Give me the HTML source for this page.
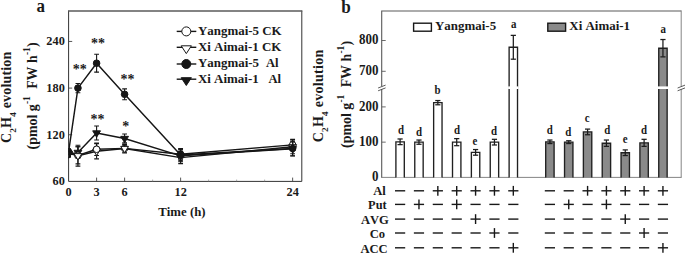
<!DOCTYPE html>
<html><head><meta charset="utf-8"><title>C2H4 evolution</title>
<style>html,body{margin:0;padding:0;background:#fff;}svg{display:block;}text{font-family:"Liberation Serif",serif;font-weight:bold;fill:#1a1a1a;font-kerning:none;}</style>
</head><body>
<svg width="685" height="253" viewBox="0 0 685 253">
<rect x="0" y="0" width="685" height="253" fill="#ffffff"/>
<path d="M68.6,10.7 V181.4 H301.8 V10.7" fill="none" stroke="#333" stroke-width="1"/>
<line x1="68.10" y1="11.00" x2="302.30" y2="11.00" stroke="#5a5a5a" stroke-width="1.3" />
<line x1="68.60" y1="134.75" x2="72.20" y2="134.75" stroke="#444" stroke-width="0.9" />
<line x1="68.60" y1="88.10" x2="72.20" y2="88.10" stroke="#444" stroke-width="0.9" />
<line x1="68.60" y1="41.45" x2="72.20" y2="41.45" stroke="#444" stroke-width="0.9" />
<text transform="translate(64.80,185.40) scale(0.93,1)" font-size="13.23" text-anchor="end" >60</text>
<text transform="translate(64.80,138.75) scale(0.93,1)" font-size="13.23" text-anchor="end" >120</text>
<text transform="translate(64.80,92.10) scale(0.93,1)" font-size="13.23" text-anchor="end" >180</text>
<text transform="translate(64.80,45.45) scale(0.93,1)" font-size="13.23" text-anchor="end" >240</text>
<line x1="96.60" y1="181.40" x2="96.60" y2="177.60" stroke="#444" stroke-width="0.9" />
<line x1="124.61" y1="181.40" x2="124.61" y2="177.60" stroke="#444" stroke-width="0.9" />
<line x1="180.62" y1="181.40" x2="180.62" y2="177.60" stroke="#444" stroke-width="0.9" />
<line x1="292.64" y1="181.40" x2="292.64" y2="177.60" stroke="#444" stroke-width="0.9" />
<line x1="152.62" y1="181.40" x2="152.62" y2="179.60" stroke="#888" stroke-width="0.7" />
<line x1="208.62" y1="181.40" x2="208.62" y2="179.60" stroke="#888" stroke-width="0.7" />
<line x1="236.63" y1="181.40" x2="236.63" y2="179.60" stroke="#888" stroke-width="0.7" />
<line x1="264.63" y1="181.40" x2="264.63" y2="179.60" stroke="#888" stroke-width="0.7" />
<text transform="translate(68.60,195.70) scale(0.93,1)" font-size="13.23" text-anchor="middle" >0</text>
<text transform="translate(96.60,195.70) scale(0.93,1)" font-size="13.23" text-anchor="middle" >3</text>
<text transform="translate(124.61,195.70) scale(0.93,1)" font-size="13.23" text-anchor="middle" >6</text>
<text transform="translate(180.62,195.70) scale(0.93,1)" font-size="13.23" text-anchor="middle" >12</text>
<text transform="translate(292.64,195.70) scale(0.93,1)" font-size="13.23" text-anchor="middle" >24</text>
<text transform="translate(181.90,216.40) scale(0.97,1)" font-size="13.20" text-anchor="middle" >Time (h)</text>
<text transform="translate(36.50,12.40) scale(0.93,1)" font-size="18.28" text-anchor="start" >a</text>
<text transform="translate(10.6,143.1) rotate(-90)" font-size="14">C<tspan font-size="9.2" dy="5.0" dx="0.2">2</tspan><tspan dy="-5.0" dx="0.3">H</tspan><tspan font-size="9.2" dy="5.0" dx="0.2">4</tspan><tspan dy="-5.0" dx="0.3" letter-spacing="0.15"> evolution</tspan></text>
<text transform="translate(36.8,149.4) rotate(-90)" font-size="13.9">(pmol g<tspan font-size="9.4" dy="-6.6" dx="0.2">-1</tspan><tspan dy="6.6" dx="3.9"> FW h</tspan><tspan font-size="9.4" dy="-6.6" dx="0.2">-1</tspan><tspan dy="6.6" dx="0.3">)</tspan></text>
<clipPath id="ca"><rect x="68.6" y="10.7" width="233.20" height="170.70"/></clipPath>
<g clip-path="url(#ca)">
<polyline points="68.60,152.63 77.94,155.35 96.60,149.29 124.61,148.36 180.62,154.19 292.64,144.86" fill="none" stroke="#161616" stroke-width="1.45" stroke-linejoin="round"/>
<line x1="68.60" y1="149.52" x2="68.60" y2="155.74" stroke="#161616" stroke-width="1.1" />
<line x1="66.20" y1="149.52" x2="71.00" y2="149.52" stroke="#161616" stroke-width="1.1" />
<line x1="66.20" y1="155.74" x2="71.00" y2="155.74" stroke="#161616" stroke-width="1.1" />
<line x1="77.94" y1="146.80" x2="77.94" y2="163.91" stroke="#161616" stroke-width="1.1" />
<line x1="75.53" y1="146.80" x2="80.34" y2="146.80" stroke="#161616" stroke-width="1.1" />
<line x1="75.53" y1="163.91" x2="80.34" y2="163.91" stroke="#161616" stroke-width="1.1" />
<line x1="96.60" y1="143.07" x2="96.60" y2="155.51" stroke="#161616" stroke-width="1.1" />
<line x1="94.20" y1="143.07" x2="99.00" y2="143.07" stroke="#161616" stroke-width="1.1" />
<line x1="94.20" y1="155.51" x2="99.00" y2="155.51" stroke="#161616" stroke-width="1.1" />
<line x1="124.61" y1="144.47" x2="124.61" y2="152.24" stroke="#161616" stroke-width="1.1" />
<line x1="122.21" y1="144.47" x2="127.01" y2="144.47" stroke="#161616" stroke-width="1.1" />
<line x1="122.21" y1="152.24" x2="127.01" y2="152.24" stroke="#161616" stroke-width="1.1" />
<line x1="180.62" y1="148.67" x2="180.62" y2="159.71" stroke="#161616" stroke-width="1.1" />
<line x1="178.22" y1="148.67" x2="183.02" y2="148.67" stroke="#161616" stroke-width="1.1" />
<line x1="178.22" y1="159.71" x2="183.02" y2="159.71" stroke="#161616" stroke-width="1.1" />
<line x1="292.64" y1="139.34" x2="292.64" y2="150.38" stroke="#161616" stroke-width="1.1" />
<line x1="290.24" y1="139.34" x2="295.04" y2="139.34" stroke="#161616" stroke-width="1.1" />
<line x1="290.24" y1="150.38" x2="295.04" y2="150.38" stroke="#161616" stroke-width="1.1" />
<circle cx="68.60" cy="152.63" r="3.3" fill="#fff" stroke="#161616" stroke-width="1"/>
<circle cx="77.94" cy="155.35" r="3.3" fill="#fff" stroke="#161616" stroke-width="1"/>
<circle cx="96.60" cy="149.29" r="3.3" fill="#fff" stroke="#161616" stroke-width="1"/>
<circle cx="124.61" cy="148.36" r="3.3" fill="#fff" stroke="#161616" stroke-width="1"/>
<circle cx="180.62" cy="154.19" r="3.3" fill="#fff" stroke="#161616" stroke-width="1"/>
<circle cx="292.64" cy="144.86" r="3.3" fill="#fff" stroke="#161616" stroke-width="1"/>
<polyline points="68.60,153.41 77.94,155.74 96.60,151.23 124.61,148.51 180.62,157.61 292.64,146.80" fill="none" stroke="#161616" stroke-width="1.45" stroke-linejoin="round"/>
<line x1="68.60" y1="150.30" x2="68.60" y2="156.52" stroke="#161616" stroke-width="1.1" />
<line x1="66.20" y1="150.30" x2="71.00" y2="150.30" stroke="#161616" stroke-width="1.1" />
<line x1="66.20" y1="156.52" x2="71.00" y2="156.52" stroke="#161616" stroke-width="1.1" />
<line x1="77.94" y1="145.32" x2="77.94" y2="166.16" stroke="#161616" stroke-width="1.1" />
<line x1="75.53" y1="145.32" x2="80.34" y2="145.32" stroke="#161616" stroke-width="1.1" />
<line x1="75.53" y1="166.16" x2="80.34" y2="166.16" stroke="#161616" stroke-width="1.1" />
<line x1="96.60" y1="143.61" x2="96.60" y2="158.85" stroke="#161616" stroke-width="1.1" />
<line x1="94.20" y1="143.61" x2="99.00" y2="143.61" stroke="#161616" stroke-width="1.1" />
<line x1="94.20" y1="158.85" x2="99.00" y2="158.85" stroke="#161616" stroke-width="1.1" />
<line x1="124.61" y1="144.00" x2="124.61" y2="153.02" stroke="#161616" stroke-width="1.1" />
<line x1="122.21" y1="144.00" x2="127.01" y2="144.00" stroke="#161616" stroke-width="1.1" />
<line x1="122.21" y1="153.02" x2="127.01" y2="153.02" stroke="#161616" stroke-width="1.1" />
<line x1="180.62" y1="151.62" x2="180.62" y2="163.60" stroke="#161616" stroke-width="1.1" />
<line x1="178.22" y1="151.62" x2="183.02" y2="151.62" stroke="#161616" stroke-width="1.1" />
<line x1="178.22" y1="163.60" x2="183.02" y2="163.60" stroke="#161616" stroke-width="1.1" />
<line x1="292.64" y1="139.80" x2="292.64" y2="153.80" stroke="#161616" stroke-width="1.1" />
<line x1="290.24" y1="139.80" x2="295.04" y2="139.80" stroke="#161616" stroke-width="1.1" />
<line x1="290.24" y1="153.80" x2="295.04" y2="153.80" stroke="#161616" stroke-width="1.1" />
<polygon points="64.70,151.28 72.50,151.28 68.60,157.68" fill="#fff" stroke="#161616" stroke-width="1" stroke-linejoin="miter"/>
<polygon points="74.03,153.61 81.84,153.61 77.94,160.01" fill="#fff" stroke="#161616" stroke-width="1" stroke-linejoin="miter"/>
<polygon points="92.70,149.10 100.50,149.10 96.60,155.50" fill="#fff" stroke="#161616" stroke-width="1" stroke-linejoin="miter"/>
<polygon points="120.71,146.38 128.51,146.38 124.61,152.78" fill="#fff" stroke="#161616" stroke-width="1" stroke-linejoin="miter"/>
<polygon points="176.72,155.48 184.52,155.48 180.62,161.88" fill="#fff" stroke="#161616" stroke-width="1" stroke-linejoin="miter"/>
<polygon points="288.74,144.67 296.54,144.67 292.64,151.07" fill="#fff" stroke="#161616" stroke-width="1" stroke-linejoin="miter"/>
<polyline points="68.60,151.86 77.94,88.10 96.60,63.22 124.61,94.32 180.62,154.97 292.64,148.51" fill="none" stroke="#161616" stroke-width="1.45" stroke-linejoin="round"/>
<line x1="68.60" y1="148.75" x2="68.60" y2="154.97" stroke="#161616" stroke-width="1.1" />
<line x1="66.20" y1="148.75" x2="71.00" y2="148.75" stroke="#161616" stroke-width="1.1" />
<line x1="66.20" y1="154.97" x2="71.00" y2="154.97" stroke="#161616" stroke-width="1.1" />
<line x1="77.94" y1="83.44" x2="77.94" y2="92.77" stroke="#161616" stroke-width="1.1" />
<line x1="75.53" y1="83.44" x2="80.34" y2="83.44" stroke="#161616" stroke-width="1.1" />
<line x1="75.53" y1="92.77" x2="80.34" y2="92.77" stroke="#161616" stroke-width="1.1" />
<line x1="96.60" y1="54.28" x2="96.60" y2="72.16" stroke="#161616" stroke-width="1.1" />
<line x1="94.20" y1="54.28" x2="99.00" y2="54.28" stroke="#161616" stroke-width="1.1" />
<line x1="94.20" y1="72.16" x2="99.00" y2="72.16" stroke="#161616" stroke-width="1.1" />
<line x1="124.61" y1="88.88" x2="124.61" y2="99.76" stroke="#161616" stroke-width="1.1" />
<line x1="122.21" y1="88.88" x2="127.01" y2="88.88" stroke="#161616" stroke-width="1.1" />
<line x1="122.21" y1="99.76" x2="127.01" y2="99.76" stroke="#161616" stroke-width="1.1" />
<line x1="180.62" y1="149.13" x2="180.62" y2="160.80" stroke="#161616" stroke-width="1.1" />
<line x1="178.22" y1="149.13" x2="183.02" y2="149.13" stroke="#161616" stroke-width="1.1" />
<line x1="178.22" y1="160.80" x2="183.02" y2="160.80" stroke="#161616" stroke-width="1.1" />
<line x1="292.64" y1="141.05" x2="292.64" y2="155.98" stroke="#161616" stroke-width="1.1" />
<line x1="290.24" y1="141.05" x2="295.04" y2="141.05" stroke="#161616" stroke-width="1.1" />
<line x1="290.24" y1="155.98" x2="295.04" y2="155.98" stroke="#161616" stroke-width="1.1" />
<circle cx="68.60" cy="151.86" r="3.3" fill="#161616" stroke="#161616" stroke-width="1"/>
<circle cx="77.94" cy="88.10" r="3.3" fill="#161616" stroke="#161616" stroke-width="1"/>
<circle cx="96.60" cy="63.22" r="3.3" fill="#161616" stroke="#161616" stroke-width="1"/>
<circle cx="124.61" cy="94.32" r="3.3" fill="#161616" stroke="#161616" stroke-width="1"/>
<circle cx="180.62" cy="154.97" r="3.3" fill="#161616" stroke="#161616" stroke-width="1"/>
<circle cx="292.64" cy="148.51" r="3.3" fill="#161616" stroke="#161616" stroke-width="1"/>
<polyline points="68.60,154.19 77.94,152.40 96.60,132.96 124.61,138.48 180.62,155.82 292.64,148.75" fill="none" stroke="#161616" stroke-width="1.45" stroke-linejoin="round"/>
<line x1="68.60" y1="151.08" x2="68.60" y2="157.30" stroke="#161616" stroke-width="1.1" />
<line x1="66.20" y1="151.08" x2="71.00" y2="151.08" stroke="#161616" stroke-width="1.1" />
<line x1="66.20" y1="157.30" x2="71.00" y2="157.30" stroke="#161616" stroke-width="1.1" />
<line x1="77.94" y1="146.72" x2="77.94" y2="158.07" stroke="#161616" stroke-width="1.1" />
<line x1="75.53" y1="146.72" x2="80.34" y2="146.72" stroke="#161616" stroke-width="1.1" />
<line x1="75.53" y1="158.07" x2="80.34" y2="158.07" stroke="#161616" stroke-width="1.1" />
<line x1="96.60" y1="125.96" x2="96.60" y2="139.96" stroke="#161616" stroke-width="1.1" />
<line x1="94.20" y1="125.96" x2="99.00" y2="125.96" stroke="#161616" stroke-width="1.1" />
<line x1="94.20" y1="139.96" x2="99.00" y2="139.96" stroke="#161616" stroke-width="1.1" />
<line x1="124.61" y1="134.05" x2="124.61" y2="142.91" stroke="#161616" stroke-width="1.1" />
<line x1="122.21" y1="134.05" x2="127.01" y2="134.05" stroke="#161616" stroke-width="1.1" />
<line x1="122.21" y1="142.91" x2="127.01" y2="142.91" stroke="#161616" stroke-width="1.1" />
<line x1="180.62" y1="149.83" x2="180.62" y2="161.81" stroke="#161616" stroke-width="1.1" />
<line x1="178.22" y1="149.83" x2="183.02" y2="149.83" stroke="#161616" stroke-width="1.1" />
<line x1="178.22" y1="161.81" x2="183.02" y2="161.81" stroke="#161616" stroke-width="1.1" />
<line x1="292.64" y1="141.75" x2="292.64" y2="155.74" stroke="#161616" stroke-width="1.1" />
<line x1="290.24" y1="141.75" x2="295.04" y2="141.75" stroke="#161616" stroke-width="1.1" />
<line x1="290.24" y1="155.74" x2="295.04" y2="155.74" stroke="#161616" stroke-width="1.1" />
<polygon points="64.70,152.05 72.50,152.05 68.60,158.45" fill="#161616" stroke="#161616" stroke-width="1" stroke-linejoin="miter"/>
<polygon points="74.03,150.27 81.84,150.27 77.94,156.67" fill="#161616" stroke="#161616" stroke-width="1" stroke-linejoin="miter"/>
<polygon points="92.70,130.83 100.50,130.83 96.60,137.23" fill="#161616" stroke="#161616" stroke-width="1" stroke-linejoin="miter"/>
<polygon points="120.71,136.35 128.51,136.35 124.61,142.75" fill="#161616" stroke="#161616" stroke-width="1" stroke-linejoin="miter"/>
<polygon points="176.72,153.69 184.52,153.69 180.62,160.09" fill="#161616" stroke="#161616" stroke-width="1" stroke-linejoin="miter"/>
<polygon points="288.74,146.61 296.54,146.61 292.64,153.01" fill="#161616" stroke="#161616" stroke-width="1" stroke-linejoin="miter"/>
<circle cx="77.94" cy="155.35" r="3.3" fill="#fff" stroke="#161616" stroke-width="1"/>
<polygon points="74.03,153.61 81.84,153.61 77.94,160.01" fill="#fff" stroke="#161616" stroke-width="1" stroke-linejoin="miter"/>
<circle cx="96.60" cy="149.29" r="3.3" fill="#fff" stroke="#161616" stroke-width="1"/>
</g>
<text transform="translate(97.90,47.70) scale(1.0,1)" font-size="14.00" text-anchor="middle" >**</text>
<text transform="translate(79.70,74.10) scale(1.0,1)" font-size="14.00" text-anchor="middle" >**</text>
<text transform="translate(127.40,83.60) scale(1.0,1)" font-size="14.00" text-anchor="middle" >**</text>
<text transform="translate(97.60,123.90) scale(1.0,1)" font-size="14.00" text-anchor="middle" >**</text>
<text transform="translate(125.70,130.90) scale(1.0,1)" font-size="14.00" text-anchor="middle" >*</text>
<line x1="176.70" y1="31.40" x2="196.30" y2="31.40" stroke="#161616" stroke-width="1.4" />
<circle cx="186.3" cy="31.4" r="4.5" fill="#fff" stroke="#161616" stroke-width="1"/>
<text transform="translate(197.90,34.90) scale(0.96,1)" font-size="13.49" text-anchor="start" xml:space="preserve">Yangmai-5 CK</text>
<line x1="176.70" y1="47.30" x2="196.30" y2="47.30" stroke="#161616" stroke-width="1.4" />
<polygon points="181.20000000000002,45.8 191.4,45.8 186.3,53.599999999999994" fill="#fff" stroke="#161616" stroke-width="1"/>
<text transform="translate(197.90,50.60) scale(0.96,1)" font-size="13.49" text-anchor="start" xml:space="preserve">Xi Aimai-1 CK</text>
<line x1="176.70" y1="64.00" x2="196.30" y2="64.00" stroke="#161616" stroke-width="1.4" />
<circle cx="186.3" cy="64.0" r="4.5" fill="#161616" stroke="#161616" stroke-width="1"/>
<text transform="translate(197.90,66.90) scale(0.96,1)" font-size="13.49" text-anchor="start" xml:space="preserve">Yangmai-5</text>
<text transform="translate(266.00,66.90) scale(0.96,1)" font-size="13.12" text-anchor="start" >Al</text>
<line x1="176.70" y1="79.20" x2="196.30" y2="79.20" stroke="#161616" stroke-width="1.4" />
<polygon points="181.20000000000002,77.7 191.4,77.7 186.3,85.5" fill="#161616" stroke="#161616" stroke-width="1"/>
<text transform="translate(197.90,83.10) scale(0.96,1)" font-size="13.49" text-anchor="start" xml:space="preserve">Xi Aimai-1</text>
<text transform="translate(268.50,83.10) scale(0.96,1)" font-size="13.12" text-anchor="start" >Al</text>
<path d="M381.7,177.4 V10.95 H681.2" fill="none" stroke="#5a5a5a" stroke-width="1.1"/>
<path d="M681.2,10.45 V177.4" fill="none" stroke="#777" stroke-width="0.9"/>
<path d="M381.2,177.4 H681.6" fill="none" stroke="#666" stroke-width="0.8"/>
<text transform="translate(378.40,181.20) scale(0.93,1)" font-size="13.98" text-anchor="end" >0</text>
<line x1="381.70" y1="142.15" x2="385.70" y2="142.15" stroke="#5a5a5a" stroke-width="0.9" />
<text transform="translate(378.40,145.95) scale(0.93,1)" font-size="13.98" text-anchor="end" >100</text>
<line x1="381.70" y1="106.90" x2="385.70" y2="106.90" stroke="#5a5a5a" stroke-width="0.9" />
<text transform="translate(378.40,110.70) scale(0.93,1)" font-size="13.98" text-anchor="end" >200</text>
<line x1="381.70" y1="71.30" x2="385.70" y2="71.30" stroke="#5a5a5a" stroke-width="0.9" />
<text transform="translate(378.40,75.00) scale(0.93,1)" font-size="13.98" text-anchor="end" >700</text>
<line x1="381.70" y1="40.50" x2="385.70" y2="40.50" stroke="#5a5a5a" stroke-width="0.9" />
<text transform="translate(378.40,44.20) scale(0.93,1)" font-size="13.98" text-anchor="end" >800</text>
<rect x="380.5" y="86.3" width="2.4" height="2.8" fill="#fff"/>
<line x1="378.10" y1="88.00" x2="385.60" y2="85.10" stroke="#484848" stroke-width="0.9" />
<line x1="378.10" y1="90.80" x2="385.60" y2="87.90" stroke="#484848" stroke-width="0.9" />
<rect x="680.0" y="86.3" width="2.4" height="2.8" fill="#fff"/>
<line x1="677.60" y1="88.00" x2="685.10" y2="85.10" stroke="#484848" stroke-width="0.9" />
<line x1="677.60" y1="90.80" x2="685.10" y2="87.90" stroke="#484848" stroke-width="0.9" />
<text transform="translate(341.20,12.70) scale(0.93,1)" font-size="18.49" text-anchor="start" >b</text>
<text transform="translate(323,142.3) rotate(-90)" font-size="14">C<tspan font-size="9.2" dy="5.0" dx="0.2">2</tspan><tspan dy="-5.0" dx="0.3">H</tspan><tspan font-size="9.2" dy="5.0" dx="0.2">4</tspan><tspan dy="-5.0" dx="0.3" letter-spacing="0.3"> evolution</tspan></text>
<text transform="translate(350.8,147.9) rotate(-90)" font-size="13.9">(pmol g<tspan font-size="9.4" dy="-6.6" dx="0.2">-1</tspan><tspan dy="6.6" dx="3.9"> FW h</tspan><tspan font-size="9.4" dy="-6.6" dx="0.2">-1</tspan><tspan dy="6.6" dx="0.3">)</tspan></text>
<rect x="395.90" y="141.80" width="8.4" height="35.60" fill="#fff"/>
<path d="M395.90,177.4 V141.80 H404.30 V177.4" fill="none" stroke="#202020" stroke-width="1.35"/>
<line x1="400.10" y1="138.97" x2="400.10" y2="144.63" stroke="#1c1c1c" stroke-width="1.25" />
<line x1="397.50" y1="138.97" x2="402.70" y2="138.97" stroke="#1c1c1c" stroke-width="1.25" />
<line x1="397.50" y1="144.63" x2="402.70" y2="144.63" stroke="#1c1c1c" stroke-width="1.25" />
<text transform="translate(401.00,133.90) scale(0.92,1)" font-size="11.85" text-anchor="middle" >d</text>
<rect x="545.70" y="141.80" width="8.4" height="35.60" fill="#8a8a8a"/>
<path d="M545.70,177.4 V141.80 H554.10 V177.4" fill="none" stroke="#202020" stroke-width="1.35"/>
<line x1="549.90" y1="140.03" x2="549.90" y2="143.57" stroke="#1c1c1c" stroke-width="1.25" />
<line x1="547.30" y1="140.03" x2="552.50" y2="140.03" stroke="#1c1c1c" stroke-width="1.25" />
<line x1="547.30" y1="143.57" x2="552.50" y2="143.57" stroke="#1c1c1c" stroke-width="1.25" />
<text transform="translate(549.80,134.20) scale(0.92,1)" font-size="11.85" text-anchor="middle" >d</text>
<rect x="414.77" y="142.15" width="8.4" height="35.25" fill="#fff"/>
<path d="M414.77,177.4 V142.15 H423.17 V177.4" fill="none" stroke="#202020" stroke-width="1.35"/>
<line x1="418.97" y1="140.03" x2="418.97" y2="144.27" stroke="#1c1c1c" stroke-width="1.25" />
<line x1="416.37" y1="140.03" x2="421.57" y2="140.03" stroke="#1c1c1c" stroke-width="1.25" />
<line x1="416.37" y1="144.27" x2="421.57" y2="144.27" stroke="#1c1c1c" stroke-width="1.25" />
<text transform="translate(418.97,135.80) scale(0.92,1)" font-size="11.85" text-anchor="middle" >d</text>
<rect x="564.54" y="142.15" width="8.4" height="35.25" fill="#8a8a8a"/>
<path d="M564.54,177.4 V142.15 H572.94 V177.4" fill="none" stroke="#202020" stroke-width="1.35"/>
<line x1="568.74" y1="140.74" x2="568.74" y2="143.56" stroke="#1c1c1c" stroke-width="1.25" />
<line x1="566.14" y1="140.74" x2="571.34" y2="140.74" stroke="#1c1c1c" stroke-width="1.25" />
<line x1="566.14" y1="143.56" x2="571.34" y2="143.56" stroke="#1c1c1c" stroke-width="1.25" />
<text transform="translate(568.34,135.50) scale(0.92,1)" font-size="11.85" text-anchor="middle" >d</text>
<rect x="433.64" y="102.67" width="8.4" height="74.73" fill="#fff"/>
<path d="M433.64,177.4 V102.67 H442.04 V177.4" fill="none" stroke="#202020" stroke-width="1.35"/>
<line x1="437.84" y1="100.55" x2="437.84" y2="104.79" stroke="#1c1c1c" stroke-width="1.25" />
<line x1="435.24" y1="100.55" x2="440.44" y2="100.55" stroke="#1c1c1c" stroke-width="1.25" />
<line x1="435.24" y1="104.79" x2="440.44" y2="104.79" stroke="#1c1c1c" stroke-width="1.25" />
<text transform="translate(437.44,93.90) scale(0.92,1)" font-size="11.85" text-anchor="middle" >b</text>
<rect x="583.38" y="131.93" width="8.4" height="45.47" fill="#8a8a8a"/>
<path d="M583.38,177.4 V131.93 H591.78 V177.4" fill="none" stroke="#202020" stroke-width="1.35"/>
<line x1="587.58" y1="129.10" x2="587.58" y2="134.76" stroke="#1c1c1c" stroke-width="1.25" />
<line x1="584.98" y1="129.10" x2="590.18" y2="129.10" stroke="#1c1c1c" stroke-width="1.25" />
<line x1="584.98" y1="134.76" x2="590.18" y2="134.76" stroke="#1c1c1c" stroke-width="1.25" />
<text transform="translate(587.18,122.40) scale(0.92,1)" font-size="11.85" text-anchor="middle" >c</text>
<rect x="452.51" y="142.15" width="8.4" height="35.25" fill="#fff"/>
<path d="M452.51,177.4 V142.15 H460.91 V177.4" fill="none" stroke="#202020" stroke-width="1.35"/>
<line x1="456.71" y1="138.62" x2="456.71" y2="145.69" stroke="#1c1c1c" stroke-width="1.25" />
<line x1="454.11" y1="138.62" x2="459.31" y2="138.62" stroke="#1c1c1c" stroke-width="1.25" />
<line x1="454.11" y1="145.69" x2="459.31" y2="145.69" stroke="#1c1c1c" stroke-width="1.25" />
<text transform="translate(457.01,134.30) scale(0.92,1)" font-size="11.85" text-anchor="middle" >d</text>
<rect x="602.22" y="143.21" width="8.4" height="34.19" fill="#8a8a8a"/>
<path d="M602.22,177.4 V143.21 H610.62 V177.4" fill="none" stroke="#202020" stroke-width="1.35"/>
<line x1="606.42" y1="140.03" x2="606.42" y2="146.39" stroke="#1c1c1c" stroke-width="1.25" />
<line x1="603.82" y1="140.03" x2="609.02" y2="140.03" stroke="#1c1c1c" stroke-width="1.25" />
<line x1="603.82" y1="146.39" x2="609.02" y2="146.39" stroke="#1c1c1c" stroke-width="1.25" />
<text transform="translate(607.32,134.10) scale(0.92,1)" font-size="11.85" text-anchor="middle" >d</text>
<rect x="471.38" y="152.37" width="8.4" height="25.03" fill="#fff"/>
<path d="M471.38,177.4 V152.37 H479.78 V177.4" fill="none" stroke="#202020" stroke-width="1.35"/>
<line x1="475.58" y1="149.54" x2="475.58" y2="155.20" stroke="#1c1c1c" stroke-width="1.25" />
<line x1="472.98" y1="149.54" x2="478.18" y2="149.54" stroke="#1c1c1c" stroke-width="1.25" />
<line x1="472.98" y1="155.20" x2="478.18" y2="155.20" stroke="#1c1c1c" stroke-width="1.25" />
<text transform="translate(474.98,144.80) scale(0.92,1)" font-size="11.85" text-anchor="middle" >e</text>
<rect x="621.06" y="152.73" width="8.4" height="24.67" fill="#8a8a8a"/>
<path d="M621.06,177.4 V152.73 H629.46 V177.4" fill="none" stroke="#202020" stroke-width="1.35"/>
<line x1="625.26" y1="149.90" x2="625.26" y2="155.55" stroke="#1c1c1c" stroke-width="1.25" />
<line x1="622.66" y1="149.90" x2="627.86" y2="149.90" stroke="#1c1c1c" stroke-width="1.25" />
<line x1="622.66" y1="155.55" x2="627.86" y2="155.55" stroke="#1c1c1c" stroke-width="1.25" />
<text transform="translate(625.26,142.60) scale(0.92,1)" font-size="11.85" text-anchor="middle" >e</text>
<rect x="490.25" y="142.15" width="8.4" height="35.25" fill="#fff"/>
<path d="M490.25,177.4 V142.15 H498.65 V177.4" fill="none" stroke="#202020" stroke-width="1.35"/>
<line x1="494.45" y1="139.32" x2="494.45" y2="144.98" stroke="#1c1c1c" stroke-width="1.25" />
<line x1="491.85" y1="139.32" x2="497.05" y2="139.32" stroke="#1c1c1c" stroke-width="1.25" />
<line x1="491.85" y1="144.98" x2="497.05" y2="144.98" stroke="#1c1c1c" stroke-width="1.25" />
<text transform="translate(493.95,134.50) scale(0.92,1)" font-size="11.85" text-anchor="middle" >d</text>
<rect x="639.90" y="142.86" width="8.4" height="34.54" fill="#8a8a8a"/>
<path d="M639.90,177.4 V142.86 H648.30 V177.4" fill="none" stroke="#202020" stroke-width="1.35"/>
<line x1="644.10" y1="139.32" x2="644.10" y2="146.39" stroke="#1c1c1c" stroke-width="1.25" />
<line x1="641.50" y1="139.32" x2="646.70" y2="139.32" stroke="#1c1c1c" stroke-width="1.25" />
<line x1="641.50" y1="146.39" x2="646.70" y2="146.39" stroke="#1c1c1c" stroke-width="1.25" />
<text transform="translate(644.10,133.80) scale(0.92,1)" font-size="11.85" text-anchor="middle" >d</text>
<rect x="509.12" y="47.28" width="8.4" height="130.12" fill="#fff"/>
<path d="M509.12,177.4 V47.28 H517.52 V177.4" fill="none" stroke="#202020" stroke-width="1.35"/>
<line x1="513.32" y1="35.36" x2="513.32" y2="59.19" stroke="#1c1c1c" stroke-width="1.25" />
<line x1="510.72" y1="35.36" x2="515.92" y2="35.36" stroke="#1c1c1c" stroke-width="1.25" />
<line x1="510.72" y1="59.19" x2="515.92" y2="59.19" stroke="#1c1c1c" stroke-width="1.25" />
<rect x="508.12" y="86.4" width="10.4" height="2.6" fill="#fff"/>
<text transform="translate(513.62,28.30) scale(0.92,1)" font-size="11.85" text-anchor="middle" >a</text>
<rect x="658.74" y="48.20" width="8.4" height="129.20" fill="#8a8a8a"/>
<path d="M658.74,177.4 V48.20 H667.14 V177.4" fill="none" stroke="#202020" stroke-width="1.35"/>
<line x1="662.94" y1="39.53" x2="662.94" y2="56.87" stroke="#1c1c1c" stroke-width="1.25" />
<line x1="660.34" y1="39.53" x2="665.54" y2="39.53" stroke="#1c1c1c" stroke-width="1.25" />
<line x1="660.34" y1="56.87" x2="665.54" y2="56.87" stroke="#1c1c1c" stroke-width="1.25" />
<rect x="657.74" y="86.4" width="10.4" height="2.6" fill="#fff"/>
<text transform="translate(663.34,33.00) scale(0.92,1)" font-size="11.85" text-anchor="middle" >a</text>
<rect x="413.6" y="23.2" width="17.8" height="8" fill="#fff" stroke="#181818" stroke-width="1.4"/>
<text transform="translate(435.00,30.00) scale(0.96,1)" font-size="13.49" text-anchor="start" >Yangmai-5</text>
<rect x="547.8" y="23.2" width="17.8" height="8" fill="#8a8a8a" stroke="#181818" stroke-width="1.4"/>
<text transform="translate(569.30,30.10) scale(0.96,1)" font-size="13.49" text-anchor="start" >Xi Aimai-1</text>
<text transform="translate(385.80,194.80) scale(0.97,1)" font-size="12.99" text-anchor="end" >Al</text>
<text transform="translate(386.70,208.60) scale(0.97,1)" font-size="12.78" text-anchor="end" >Put</text>
<text transform="translate(388.90,223.80) scale(0.97,1)" font-size="12.99" text-anchor="end" >AVG</text>
<text transform="translate(385.10,238.20) scale(0.97,1)" font-size="12.99" text-anchor="end" >Co</text>
<text transform="translate(387.70,252.50) scale(0.97,1)" font-size="12.99" text-anchor="end" >ACC</text>
<line x1="395.00" y1="190.80" x2="405.20" y2="190.80" stroke="#181818" stroke-width="1.4" />
<line x1="413.87" y1="190.80" x2="424.07" y2="190.80" stroke="#181818" stroke-width="1.4" />
<line x1="432.74" y1="190.80" x2="442.94" y2="190.80" stroke="#181818" stroke-width="1.4" />
<line x1="437.84" y1="185.90" x2="437.84" y2="195.70" stroke="#181818" stroke-width="1.4" />
<line x1="451.61" y1="190.80" x2="461.81" y2="190.80" stroke="#181818" stroke-width="1.4" />
<line x1="456.71" y1="185.90" x2="456.71" y2="195.70" stroke="#181818" stroke-width="1.4" />
<line x1="470.48" y1="190.80" x2="480.68" y2="190.80" stroke="#181818" stroke-width="1.4" />
<line x1="475.58" y1="185.90" x2="475.58" y2="195.70" stroke="#181818" stroke-width="1.4" />
<line x1="489.35" y1="190.80" x2="499.55" y2="190.80" stroke="#181818" stroke-width="1.4" />
<line x1="494.45" y1="185.90" x2="494.45" y2="195.70" stroke="#181818" stroke-width="1.4" />
<line x1="508.22" y1="190.80" x2="518.42" y2="190.80" stroke="#181818" stroke-width="1.4" />
<line x1="513.32" y1="185.90" x2="513.32" y2="195.70" stroke="#181818" stroke-width="1.4" />
<line x1="544.80" y1="190.80" x2="555.00" y2="190.80" stroke="#181818" stroke-width="1.4" />
<line x1="563.64" y1="190.80" x2="573.84" y2="190.80" stroke="#181818" stroke-width="1.4" />
<line x1="582.48" y1="190.80" x2="592.68" y2="190.80" stroke="#181818" stroke-width="1.4" />
<line x1="587.58" y1="185.90" x2="587.58" y2="195.70" stroke="#181818" stroke-width="1.4" />
<line x1="601.32" y1="190.80" x2="611.52" y2="190.80" stroke="#181818" stroke-width="1.4" />
<line x1="606.42" y1="185.90" x2="606.42" y2="195.70" stroke="#181818" stroke-width="1.4" />
<line x1="620.16" y1="190.80" x2="630.36" y2="190.80" stroke="#181818" stroke-width="1.4" />
<line x1="625.26" y1="185.90" x2="625.26" y2="195.70" stroke="#181818" stroke-width="1.4" />
<line x1="639.00" y1="190.80" x2="649.20" y2="190.80" stroke="#181818" stroke-width="1.4" />
<line x1="644.10" y1="185.90" x2="644.10" y2="195.70" stroke="#181818" stroke-width="1.4" />
<line x1="657.84" y1="190.80" x2="668.04" y2="190.80" stroke="#181818" stroke-width="1.4" />
<line x1="662.94" y1="185.90" x2="662.94" y2="195.70" stroke="#181818" stroke-width="1.4" />
<line x1="395.00" y1="204.40" x2="405.20" y2="204.40" stroke="#181818" stroke-width="1.4" />
<line x1="413.87" y1="204.40" x2="424.07" y2="204.40" stroke="#181818" stroke-width="1.4" />
<line x1="418.97" y1="199.50" x2="418.97" y2="209.30" stroke="#181818" stroke-width="1.4" />
<line x1="432.74" y1="204.40" x2="442.94" y2="204.40" stroke="#181818" stroke-width="1.4" />
<line x1="451.61" y1="204.40" x2="461.81" y2="204.40" stroke="#181818" stroke-width="1.4" />
<line x1="456.71" y1="199.50" x2="456.71" y2="209.30" stroke="#181818" stroke-width="1.4" />
<line x1="470.48" y1="204.40" x2="480.68" y2="204.40" stroke="#181818" stroke-width="1.4" />
<line x1="489.35" y1="204.40" x2="499.55" y2="204.40" stroke="#181818" stroke-width="1.4" />
<line x1="508.22" y1="204.40" x2="518.42" y2="204.40" stroke="#181818" stroke-width="1.4" />
<line x1="544.80" y1="204.40" x2="555.00" y2="204.40" stroke="#181818" stroke-width="1.4" />
<line x1="563.64" y1="204.40" x2="573.84" y2="204.40" stroke="#181818" stroke-width="1.4" />
<line x1="568.74" y1="199.50" x2="568.74" y2="209.30" stroke="#181818" stroke-width="1.4" />
<line x1="582.48" y1="204.40" x2="592.68" y2="204.40" stroke="#181818" stroke-width="1.4" />
<line x1="601.32" y1="204.40" x2="611.52" y2="204.40" stroke="#181818" stroke-width="1.4" />
<line x1="606.42" y1="199.50" x2="606.42" y2="209.30" stroke="#181818" stroke-width="1.4" />
<line x1="620.16" y1="204.40" x2="630.36" y2="204.40" stroke="#181818" stroke-width="1.4" />
<line x1="639.00" y1="204.40" x2="649.20" y2="204.40" stroke="#181818" stroke-width="1.4" />
<line x1="657.84" y1="204.40" x2="668.04" y2="204.40" stroke="#181818" stroke-width="1.4" />
<line x1="395.00" y1="219.10" x2="405.20" y2="219.10" stroke="#181818" stroke-width="1.4" />
<line x1="413.87" y1="219.10" x2="424.07" y2="219.10" stroke="#181818" stroke-width="1.4" />
<line x1="432.74" y1="219.10" x2="442.94" y2="219.10" stroke="#181818" stroke-width="1.4" />
<line x1="451.61" y1="219.10" x2="461.81" y2="219.10" stroke="#181818" stroke-width="1.4" />
<line x1="470.48" y1="219.10" x2="480.68" y2="219.10" stroke="#181818" stroke-width="1.4" />
<line x1="475.58" y1="214.20" x2="475.58" y2="224.00" stroke="#181818" stroke-width="1.4" />
<line x1="489.35" y1="219.10" x2="499.55" y2="219.10" stroke="#181818" stroke-width="1.4" />
<line x1="508.22" y1="219.10" x2="518.42" y2="219.10" stroke="#181818" stroke-width="1.4" />
<line x1="544.80" y1="219.10" x2="555.00" y2="219.10" stroke="#181818" stroke-width="1.4" />
<line x1="563.64" y1="219.10" x2="573.84" y2="219.10" stroke="#181818" stroke-width="1.4" />
<line x1="582.48" y1="219.10" x2="592.68" y2="219.10" stroke="#181818" stroke-width="1.4" />
<line x1="601.32" y1="219.10" x2="611.52" y2="219.10" stroke="#181818" stroke-width="1.4" />
<line x1="620.16" y1="219.10" x2="630.36" y2="219.10" stroke="#181818" stroke-width="1.4" />
<line x1="625.26" y1="214.20" x2="625.26" y2="224.00" stroke="#181818" stroke-width="1.4" />
<line x1="639.00" y1="219.10" x2="649.20" y2="219.10" stroke="#181818" stroke-width="1.4" />
<line x1="657.84" y1="219.10" x2="668.04" y2="219.10" stroke="#181818" stroke-width="1.4" />
<line x1="395.00" y1="233.00" x2="405.20" y2="233.00" stroke="#181818" stroke-width="1.4" />
<line x1="413.87" y1="233.00" x2="424.07" y2="233.00" stroke="#181818" stroke-width="1.4" />
<line x1="432.74" y1="233.00" x2="442.94" y2="233.00" stroke="#181818" stroke-width="1.4" />
<line x1="451.61" y1="233.00" x2="461.81" y2="233.00" stroke="#181818" stroke-width="1.4" />
<line x1="470.48" y1="233.00" x2="480.68" y2="233.00" stroke="#181818" stroke-width="1.4" />
<line x1="489.35" y1="233.00" x2="499.55" y2="233.00" stroke="#181818" stroke-width="1.4" />
<line x1="494.45" y1="228.10" x2="494.45" y2="237.90" stroke="#181818" stroke-width="1.4" />
<line x1="508.22" y1="233.00" x2="518.42" y2="233.00" stroke="#181818" stroke-width="1.4" />
<line x1="544.80" y1="233.00" x2="555.00" y2="233.00" stroke="#181818" stroke-width="1.4" />
<line x1="563.64" y1="233.00" x2="573.84" y2="233.00" stroke="#181818" stroke-width="1.4" />
<line x1="582.48" y1="233.00" x2="592.68" y2="233.00" stroke="#181818" stroke-width="1.4" />
<line x1="601.32" y1="233.00" x2="611.52" y2="233.00" stroke="#181818" stroke-width="1.4" />
<line x1="620.16" y1="233.00" x2="630.36" y2="233.00" stroke="#181818" stroke-width="1.4" />
<line x1="639.00" y1="233.00" x2="649.20" y2="233.00" stroke="#181818" stroke-width="1.4" />
<line x1="644.10" y1="228.10" x2="644.10" y2="237.90" stroke="#181818" stroke-width="1.4" />
<line x1="657.84" y1="233.00" x2="668.04" y2="233.00" stroke="#181818" stroke-width="1.4" />
<line x1="395.00" y1="247.80" x2="405.20" y2="247.80" stroke="#181818" stroke-width="1.4" />
<line x1="413.87" y1="247.80" x2="424.07" y2="247.80" stroke="#181818" stroke-width="1.4" />
<line x1="432.74" y1="247.80" x2="442.94" y2="247.80" stroke="#181818" stroke-width="1.4" />
<line x1="451.61" y1="247.80" x2="461.81" y2="247.80" stroke="#181818" stroke-width="1.4" />
<line x1="470.48" y1="247.80" x2="480.68" y2="247.80" stroke="#181818" stroke-width="1.4" />
<line x1="489.35" y1="247.80" x2="499.55" y2="247.80" stroke="#181818" stroke-width="1.4" />
<line x1="508.22" y1="247.80" x2="518.42" y2="247.80" stroke="#181818" stroke-width="1.4" />
<line x1="513.32" y1="242.90" x2="513.32" y2="252.70" stroke="#181818" stroke-width="1.4" />
<line x1="544.80" y1="247.80" x2="555.00" y2="247.80" stroke="#181818" stroke-width="1.4" />
<line x1="563.64" y1="247.80" x2="573.84" y2="247.80" stroke="#181818" stroke-width="1.4" />
<line x1="582.48" y1="247.80" x2="592.68" y2="247.80" stroke="#181818" stroke-width="1.4" />
<line x1="601.32" y1="247.80" x2="611.52" y2="247.80" stroke="#181818" stroke-width="1.4" />
<line x1="620.16" y1="247.80" x2="630.36" y2="247.80" stroke="#181818" stroke-width="1.4" />
<line x1="639.00" y1="247.80" x2="649.20" y2="247.80" stroke="#181818" stroke-width="1.4" />
<line x1="657.84" y1="247.80" x2="668.04" y2="247.80" stroke="#181818" stroke-width="1.4" />
<line x1="662.94" y1="242.90" x2="662.94" y2="252.70" stroke="#181818" stroke-width="1.4" />
</svg></body></html>
